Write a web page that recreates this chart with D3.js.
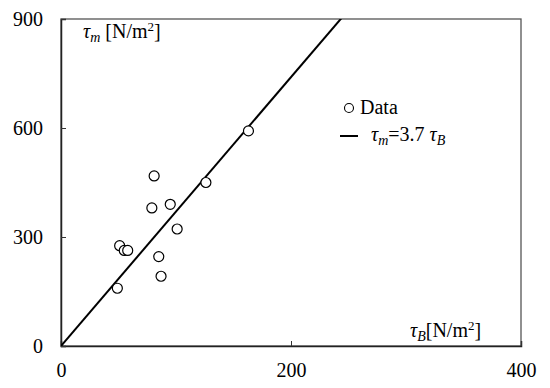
<!DOCTYPE html>
<html>
<head>
<meta charset="utf-8">
<script src="https://cdn.jsdelivr.net/npm/d3@7"></script>
<style>
  body { margin: 0; background: #fff; }
  svg text { font-family: "Liberation Serif", "Times New Roman", serif; }
</style>
</head>
<body>
<svg></svg>
<script>
// размеры
const width = 550;
const height = 388;
const margin = { left: 61, right: 29, top: 19, bottom: 42 };
const serif = "Liberation Serif";

// данные
const tauB = [49, 51, 55, 58, 79, 81, 85, 87, 95, 101, 126, 163];
const tauM = [159, 276, 263, 263, 380, 468, 246, 192, 390, 322, 450, 592];
const slope = 3.7;
const xTicks = [0, 200, 400];
const yTicks = [0, 300, 600, 900];

let svg = d3.select("svg").attr("width", width).attr("height", height)
    .attr("font-family", serif);

const x = d3.scaleLinear().domain([0, 400]).range([margin.left, width - margin.right]);
const y = d3.scaleLinear().domain([0, 900]).range([height - margin.bottom, margin.top]);

// рамка
svg.append("rect")
    .attr("x", x(0)).attr("y", y(900))
    .attr("width", x(400) - x(0)).attr("height", y(0) - y(900))
    .attr("fill", "none").attr("stroke", "#555").attr("stroke-width", 1.3);

// оси с внутренними делениями
let xAxis = svg.append("g").attr("transform", `translate(0,${y(0)})`)
    .call(d3.axisBottom(x).tickValues(xTicks).tickSize(-5).tickPadding(17).tickFormat(d3.format("d")));
let yAxis = svg.append("g").attr("transform", `translate(${x(0)},0)`)
    .call(d3.axisLeft(y).tickValues(yTicks).tickSize(-5).tickPadding(18).tickFormat(d3.format("d")));
[xAxis, yAxis].forEach(a => {
    a.attr("font-family", serif).attr("font-size", 20);
    a.select(".domain").attr("stroke", "#222").attr("stroke-width", 1.5);
    a.selectAll(".tick line").attr("stroke", "#333");
    a.selectAll(".tick text").style("font-family", serif).style("font-size", "20px").attr("fill", "#000");
});

// линия тренда
svg.append("clipPath").attr("id", "plot")
    .append("rect").attr("x", x(0)).attr("y", y(900))
    .attr("width", x(400) - x(0)).attr("height", y(0) - y(900));
const lineData = [0, 400].map(v => ({ x: v, y: slope * v }));
svg.append("path")
    .attr("clip-path", "url(#plot)")
    .attr("d", d3.line().x(d => x(d.x)).y(d => y(d.y))(lineData))
    .attr("stroke", "#000").attr("stroke-width", 2).attr("fill", "none");

// точки
svg.append("g").selectAll("circle").data(tauB).join("circle")
    .attr("cx", d => x(d))
    .attr("cy", (d, i) => y(tauM[i]))
    .attr("r", 5)
    .attr("fill", "#fff").attr("stroke", "#000").attr("stroke-width", 1.2);

function txt(tx, ty) {
    return svg.append("text").attr("x", tx).attr("y", ty)
        .style("font-family", serif).style("font-size", "20px").attr("fill", "#000");
}

// подписи осей
function label(tx, ty, sub, gap) {
    let t = txt(tx, ty);
    t.append("tspan").text("τ").style("font-style", "italic");
    t.append("tspan").text(sub).style("font-style", "italic").style("font-size", "14px").attr("dy", 4);
    t.append("tspan").text(gap + "[N/m").attr("dy", -4);
    t.append("tspan").text("2").style("font-size", "13px").attr("dy", -7);
    t.append("tspan").text("]").attr("dy", 7);
}
label(83, 38, "m", " ");
label(410, 337, "B", "");

// легенда
svg.append("circle").attr("cx", 349).attr("cy", 108).attr("r", 4.5)
    .attr("fill", "#fff").attr("stroke", "#000").attr("stroke-width", 1.1);
txt(360, 114).text("Data");
svg.append("line").attr("x1", 340).attr("x2", 358).attr("y1", 136).attr("y2", 136)
    .attr("stroke", "#000").attr("stroke-width", 2);
let lg = txt(371, 141);
lg.append("tspan").text("τ").style("font-style", "italic");
lg.append("tspan").text("m").style("font-style", "italic").style("font-size", "14px").attr("dy", 4);
lg.append("tspan").text("=3.7").attr("dy", -4);
lg.append("tspan").text(" τ").style("font-style", "italic");
lg.append("tspan").text("B").style("font-style", "italic").style("font-size", "14px").attr("dy", 4);
</script>
</body>
</html>
